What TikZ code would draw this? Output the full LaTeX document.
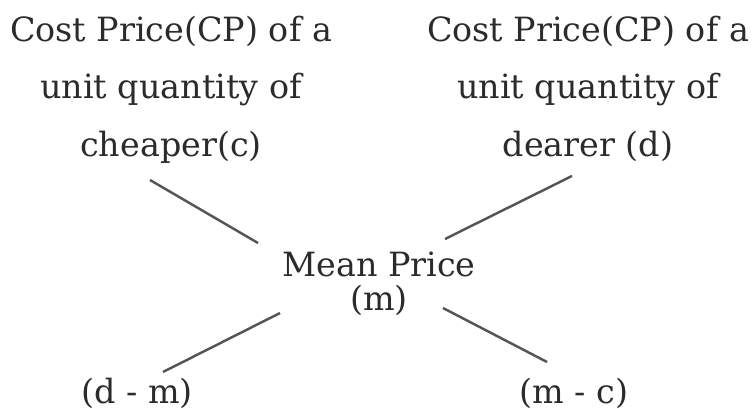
\documentclass[tikz,border=0pt]{standalone}
\usepackage{fontspec}
\setmainfont{DejaVu Serif}
\usepackage{xcolor}
\usetikzlibrary{positioning}
\definecolor{inkgray}{HTML}{2B2B2B}
\definecolor{linegray}{HTML}{555555}

\begin{document}
\begin{tikzpicture}[
    x=0.02cm, y=-0.02cm,
    pricetext/.style={inner sep=0pt, text=inkgray, align=center, anchor=base,
                      font=\fontsize{19}{32.5}\selectfont},
    meantext/.style={inner sep=0pt, text=inkgray, align=center, anchor=base,
                     font=\fontsize{19}{19}\selectfont},
    link/.style={draw=linegray, line width=1.4pt}
]
\useasboundingbox (0,0) rectangle (755,409);

% price blocks (base = last line)
\node[pricetext] at (171,156) (cheap) {Cost Price(CP) of a\\unit quantity of\\cheaper(c)};
\node[pricetext] at (588,156) (dear) {Cost Price(CP) of a\\unit quantity of\\dearer (d)};

% mean
\node[meantext] at (379,310) (mean) {Mean Price\\(m)};

% differences
\node[pricetext] at (137,403) (dm) {(d - m)};
\node[pricetext] at (574,403) (mc) {(m - c)};

% line ends
\coordinate (c1) at (150,180);
\coordinate (c2) at (258,243);
\coordinate (d1) at (572,176);
\coordinate (d2) at (445,239);
\coordinate (m1) at (280,313);
\coordinate (m2) at (163,372);
\coordinate (n1) at (443,308);
\coordinate (n2) at (547,362);

\draw[link] (c1) -- (c2);
\draw[link] (d1) -- (d2);
\draw[link] (m1) -- (m2);
\draw[link] (n1) -- (n2);

\end{tikzpicture}
\end{document}
